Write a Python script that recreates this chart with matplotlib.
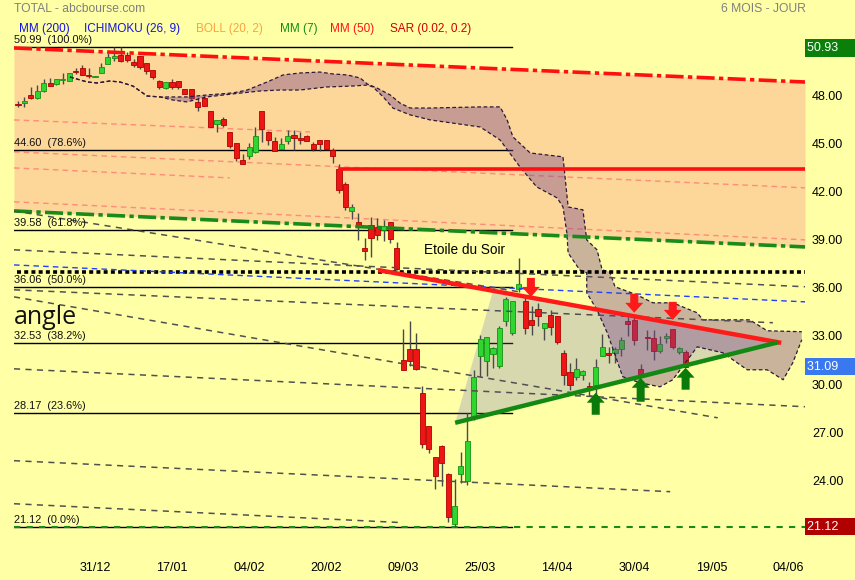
import numpy as np
import matplotlib.pyplot as plt
from matplotlib.transforms import blended_transform_factory

plt.rcParams['font.family'] = ['Liberation Sans', 'DejaVu Sans']

# daily candles, index 0 = 31/12
idx = np.arange(-12, 93)
opens = [47.42, 47.49, 48.00, 47.80, 48.27, 48.77, 48.67, 48.95, 48.89, 49.45, 49.66, 49.27,
         49.12, 49.39, 49.91, 50.32, 50.49, 50.49, 50.06, 50.43, 49.98, 49.56, 48.89, 48.42,
         48.79, 48.85, 48.38, 48.36, 47.59, 47.80, 47.00, 46.18, 46.53, 45.70, 45.03, 43.98,
         44.23, 44.47, 47.00, 45.70, 45.14, 44.66, 45.16, 45.51, 45.33, 45.45, 44.95, 45.20,
         45.20, 44.58, 43.40, 42.46, 40.80, 40.12, 38.50, 39.91, 39.81, 39.60, 40.12, 38.46,
         31.51, 32.20, 32.20, 29.44, 27.36, 25.46, 26.16, 24.40, 21.31, 24.42, 23.94, 27.98,
         31.72, 31.41, 31.89, 31.10, 33.90, 33.21, 35.93, 35.20, 33.98, 34.67, 33.50, 34.29,
         34.25, 31.93, 30.75, 30.47, 30.54, 29.89, 29.96, 31.72, 31.93, 31.93, 32.18, 33.90,
         33.98, 30.93, 32.88, 32.86, 32.03, 32.90, 33.44, 31.97, 32.00]
highs = [47.63, 47.86, 48.48, 48.60, 49.00, 49.08, 49.00, 49.40, 49.40, 49.67, 49.89, 49.66,
         49.20, 50.00, 50.60, 51.00, 50.97, 50.70, 50.25, 50.43, 49.98, 49.56, 48.95, 48.81,
         49.00, 48.85, 48.40, 48.36, 47.90, 48.00, 47.00, 46.45, 46.60, 45.70, 45.03, 44.30,
         45.00, 46.00, 47.00, 45.75, 45.40, 45.30, 45.80, 45.80, 45.70, 45.50, 45.10, 45.20,
         45.20, 44.70, 43.70, 42.60, 41.20, 40.64, 39.08, 40.40, 40.33, 40.20, 40.12, 38.84,
         33.42, 33.94, 33.17, 29.90, 27.36, 25.46, 26.20, 24.46, 24.10, 25.74, 28.20, 30.89,
         33.07, 32.93, 32.34, 33.63, 35.45, 35.20, 37.84, 35.45, 34.87, 35.04, 33.78, 34.62,
         34.25, 32.13, 31.31, 31.62, 30.85, 30.16, 31.56, 33.11, 32.34, 32.34, 32.96, 34.31,
         34.21, 31.24, 33.38, 33.38, 33.00, 33.17, 33.44, 32.30, 32.10]
lows = [47.28, 47.28, 47.77, 47.77, 48.20, 48.55, 48.65, 48.67, 48.89, 49.30, 49.25, 49.07,
        49.10, 49.39, 49.91, 50.10, 50.05, 50.05, 49.76, 49.60, 49.30, 49.00, 48.36, 48.36,
        48.36, 48.40, 48.07, 47.70, 46.99, 47.34, 46.03, 45.70, 46.00, 44.69, 43.91, 43.70,
        44.00, 44.40, 45.10, 44.90, 44.54, 44.66, 44.95, 44.59, 44.98, 45.16, 44.50, 44.50,
        44.66, 43.77, 41.90, 40.85, 40.25, 38.98, 37.74, 37.94, 38.98, 38.90, 38.81, 37.08,
        30.89, 31.10, 30.90, 26.00, 25.70, 23.47, 23.63, 21.39, 21.12, 23.84, 23.73, 27.78,
        30.47, 30.52, 31.00, 31.00, 33.63, 33.07, 35.76, 33.10, 33.07, 33.59, 32.76, 33.07,
        32.51, 29.96, 29.65, 30.27, 30.27, 29.23, 29.23, 31.72, 31.31, 31.31, 31.72, 33.00,
        32.45, 30.52, 32.13, 31.51, 31.93, 32.55, 32.20, 31.90, 31.06]
closes = [47.38, 47.63, 47.80, 48.25, 48.77, 48.58, 49.00, 49.00, 49.35, 49.41, 49.27, 49.19,
          49.19, 49.76, 50.35, 50.45, 50.10, 50.18, 49.89, 49.73, 49.52, 49.10, 48.52, 48.81,
          48.50, 48.52, 48.07, 47.80, 47.28, 47.34, 46.03, 46.45, 46.14, 44.82, 44.10, 43.73,
          44.75, 45.45, 45.87, 45.20, 44.54, 44.95, 45.45, 45.35, 45.20, 45.16, 44.66, 44.95,
          44.66, 44.23, 42.10, 41.05, 41.05, 39.91, 38.31, 39.08, 39.29, 39.85, 39.02, 37.16,
          30.89, 31.41, 30.93, 26.29, 25.96, 24.25, 25.08, 21.72, 22.43, 24.92, 26.45, 30.47,
          32.80, 32.93, 32.22, 33.49, 35.29, 35.20, 36.22, 33.49, 33.67, 34.21, 33.78, 33.55,
          32.59, 30.58, 29.96, 30.93, 30.79, 29.75, 31.05, 32.34, 31.81, 32.18, 32.76, 33.75,
          32.76, 30.64, 32.84, 32.09, 32.49, 32.95, 32.28, 32.24, 31.09]

date_pos = [0, 12, 24, 36, 48, 60, 72, 84, 96, 108]
date_lbl = ['31/12', '17/01', '04/02', '20/02', '09/03', '25/03', '14/04', '30/04', '19/05', '04/06']
price_ticks = [24, 27, 30, 33, 36, 39, 42, 45, 48]

# ichimoku cloud, upper and lower edge (index, price)
span_a_x = [-3.9, -1.2, 0.3, 2.3, 3.9, 5.9, 8.1, 10.1, 14.3, 17.4, 21.5, 23.7, 26.8, 29.3, 31.9,
            35.0, 37.1, 39.3, 41.3, 42.4, 43.9, 46.0, 47.5, 49.1, 52.2, 60.0, 63.1, 64.2, 65.1,
            67.8, 72.9, 73.7, 76.0, 76.6, 78.2, 79.0, 80.2, 81.0, 84.4, 86.9, 90.0, 93.8, 94.7,
            102.0, 104.7, 110.1]
span_a_p = [49.12, 48.81, 48.75, 48.87, 48.81, 48.56, 47.94, 47.88, 47.88, 48.00, 48.13, 48.31,
            48.81, 49.25, 49.37, 49.43, 49.31, 49.25, 49.06, 48.69, 48.44, 48.00, 47.50, 47.19,
            47.19, 47.26, 47.26, 46.45, 45.39, 44.39, 44.15, 41.03, 40.85, 38.98, 38.36, 37.11,
            36.99, 36.06, 35.56, 35.06, 35.06, 34.44, 34.00, 34.00, 33.32, 33.26]
span_b_x = [-3.9, -1.2, 0.3, 2.3, 3.9, 5.9, 8.1, 10.1, 12.1, 14.3, 17.4, 21.5, 25.7, 28.8, 31.9,
            36.1, 40.2, 42.4, 43.3, 44.9, 46.4, 49.1, 52.2, 60.0, 63.1, 66.2, 68.8, 72.0, 72.9,
            73.5, 73.7, 75.5, 76.6, 76.6, 78.2, 79.8, 82.2, 84.9, 88.0, 90.0, 93.8, 97.8, 101.6,
            104.7, 107.2, 108.7, 110.1]
span_b_p = [49.12, 48.81, 48.75, 48.87, 48.81, 48.56, 47.94, 47.88, 47.69, 47.57, 47.88, 48.07,
            48.25, 48.31, 48.31, 48.50, 48.56, 48.62, 48.50, 47.88, 47.19, 46.76, 46.45, 46.01,
            45.20, 43.52, 42.28, 41.59, 41.03, 39.42, 38.17, 37.11, 36.93, 35.68, 34.62, 33.19,
            30.46, 30.08, 29.83, 30.27, 32.32, 31.95, 30.89, 30.89, 30.27, 31.33, 32.76]

# fibonacci retracement
fib_vals = [50.99, 44.60, 39.58, 36.06, 32.53, 28.17, 21.12]
fib_pct = ['100.0%', '78.6%', '61.8%', '50.0%', '38.2%', '23.6%', '0.0%']

# drawn lines: ((i0, i1), (p0, p1))
chan_top = ((-12.62, 110.6), (50.93, 48.81))
chan_bot = ((-12.62, 110.6), (40.78, 38.54))
salmon_lines = [((-12.62, 33.5), (46.45, 45.70)),
                ((-12.62, 110.6), (44.46, 42.22)),
                ((-12.62, 21.0), (43.46, 42.84)),
                ((-12.62, 110.6), (41.35, 38.98))]
gray_lines = [((-12.62, 66.2), (40.78, 35.74)),
              ((-12.62, 110.6), (38.36, 36.06)),
              ((-12.62, 105.6), (35.87, 33.82)),
              ((-12.62, 97.0), (35.43, 27.90)),
              ((-12.62, 110.6), (30.95, 28.59)),
              ((-12.62, 89.6), (25.23, 23.30)),
              ((-12.62, 48.0), (22.55, 21.37))]
blue_line = ((-12.62, 110.6), (37.42, 35.12))
mm50_level = 43.40
dotted_level = 36.96
res_line = ((44.1, 106.9), (37.10, 32.57))
sup_line = ((56.1, 106.4), (27.59, 32.60))
tri_x = [56.1, 62.0, 106.7]
tri_p = [27.59, 35.80, 32.57]

down_x = [67.9, 84.0, 90.0]
down_top = [36.61, 35.62, 35.12]
down_tip = [35.43, 34.44, 34.00]
up_x = [78.0, 85.0, 92.0]
up_base = [28.09, 28.90, 29.65]
up_tip = [29.46, 30.39, 31.02]

bg = '#ffffa6'
fig = plt.figure(figsize=(8.55, 5.8), dpi=100, facecolor=bg)
ax = fig.add_axes([14 / 855, 35 / 580, 791 / 855, 507 / 580], facecolor=bg)
ax.set_xlim(-12.62, 110.6)
ax.set_ylim(19.98, 51.55)

# orange channel
xs = np.array(chan_top[0])
ax.fill_between(xs, chan_bot[1], chan_top[1], color='#fdd699', zorder=1, lw=0)
for (x0, x1), (p0, p1) in salmon_lines:
    ax.plot([x0, x1], [p0, p1], color='#ff8c78', lw=1, ls=(0, (4, 3)), zorder=1.5)

# fib levels
for v, pc in zip(fib_vals, fib_pct):
    ax.plot([-12.62, 64.95], [v, v], color='black', lw=1, zorder=1.6)
    ax.annotate(f'{v:.2f}  ({pc})', (-12.62, v), xytext=(0, 1.5), textcoords='offset points',
                fontsize=7.9, va='bottom', ha='left', color='#111111', zorder=7)
ax.plot([-12.62, 110.6], [21.12, 21.12], color='#1a8a1a', lw=1.5, ls=(0, (3, 3)), zorder=1.7)

# triangle zone
ax.fill(tri_x, tri_p, color=(0.4, 0.4, 0.8, 0.25), lw=0, zorder=2)

# candles
o = np.array(opens); c = np.array(closes)
up = c >= o
ax.vlines(idx, lows, highs, color='#4a4a4a', lw=1, zorder=3)
body_h = np.maximum(np.abs(c - o), 0.07)
ax.bar(idx[up], body_h[up], bottom=np.minimum(o, c)[up], width=0.8,
       color='#2fd62f', edgecolor='#169016', lw=0.6, zorder=3.2)
ax.bar(idx[~up], body_h[~up], bottom=np.minimum(o, c)[~up], width=0.8,
       color='#ee1515', edgecolor='#b00000', lw=0.6, zorder=3.2)

# ichimoku cloud
ax.fill(np.r_[span_a_x, span_b_x[::-1]], np.r_[span_a_p, span_b_p[::-1]],
        color=(0.47, 0.27, 0.55, 0.4), lw=0, zorder=4)
ax.plot(span_a_x, span_a_p, color='#2a1a3a', lw=0.9, ls=(0, (3, 2)), zorder=4.1)
ax.plot(span_b_x, span_b_p, color='#2a1a3a', lw=0.9, ls=(0, (3, 2)), zorder=4.1)

# channel borders and other lines
ax.plot(*chan_top, color='#ff1010', lw=2.6, ls=(0, (5, 1.2, 1.2, 1.2)), zorder=5)
ax.plot(*chan_bot, color='#1a8a1a', lw=2.6, ls=(0, (5, 1.2, 1.2, 1.2)), zorder=5)
ax.plot([38.2, 110.6], [mm50_level, mm50_level], color='#ff1010', lw=2.6, zorder=5)
ax.plot([-12.2, 110.6], [dotted_level, dotted_level], color='black', lw=2.6,
        ls=(0, (1.1, 0.9)), zorder=5)
ax.plot(*blue_line, color='#2040ff', lw=1, ls=(0, (4, 3)), zorder=5)
for seg in gray_lines:
    ax.plot(*seg, color='#505050', lw=1.1, ls=(0, (4, 3.5)), zorder=5)
ax.plot(*res_line, color='#ff1a1a', lw=3.2, solid_capstyle='butt', zorder=5.5)
ax.plot(*sup_line, color='#128a12', lw=3.2, solid_capstyle='butt', zorder=5.5)

# arrows
for x, t0, t1 in zip(down_x, down_top, down_tip):
    ax.arrow(x, t0, 0, t1 - t0, width=1.25, head_width=2.8, head_length=0.62,
             length_includes_head=True, color='#ff1a1a', lw=0, zorder=6)
for x, b0, t1 in zip(up_x, up_base, up_tip):
    ax.arrow(x, b0, 0, t1 - b0, width=1.25, head_width=2.8, head_length=0.62,
             length_includes_head=True, color='#0a7a0a', lw=0, zorder=6)

ax.text(57.6, 38.36, 'Etoile du Soir', fontsize=9.8, ha='center', va='center', zorder=7)
# only the end of the word shows at the left border
ax.text(-12.62, 33.75, 'angle', fontsize=18, family='Open Sans', ha='left',
        va='baseline', color='#111111', zorder=7)

# axes cosmetics
for s in ax.spines.values():
    s.set_visible(False)
ax.yaxis.tick_right()
ax.set_yticks(price_ticks)
ax.set_yticklabels([f'{v:.2f}' for v in price_ticks])
ax.tick_params(axis='y', length=0, pad=5, labelsize=9)
ax.set_xticks(date_pos)
ax.set_xticklabels(date_lbl)
ax.tick_params(axis='x', length=0, pad=12, labelsize=9)

# price boxes on the right
tr = blended_transform_factory(ax.transAxes, ax.transData)
for val, col in [(50.93, '#0a800a'), (31.09, '#3a78f0'), (21.12, '#b00000')]:
    ax.text(1.003, val, f'{val:.2f}    ', transform=tr, color='white', fontsize=9,
            ha='left', va='center', zorder=8,
            bbox=dict(boxstyle='square,pad=0.22', fc=col, ec='none'))

# header
fig.text(14 / 855, 1 - 9 / 580, 'TOTAL - abcbourse.com', color='#808080', fontsize=8.7, va='center')
fig.text(806 / 855, 1 - 9 / 580, '6 MOIS - JOUR', color='#808080', fontsize=8.7, va='center', ha='right')
legend = [('MM (200)', '#1414e6', 19), ('ICHIMOKU (26, 9)', '#1414e6', 84),
          ('BOLL (20, 2)', '#ffa040', 196), ('MM (7)', '#148c14', 280),
          ('MM (50)', '#ff1414', 330), ('SAR (0.02, 0.2)', '#d00000', 390)]
for txt, col, xp in legend:
    fig.text(xp / 855, 1 - 29 / 580, txt, color=col, fontsize=8.5, va='center')

fig.savefig('out.png', dpi=100, facecolor=bg)
